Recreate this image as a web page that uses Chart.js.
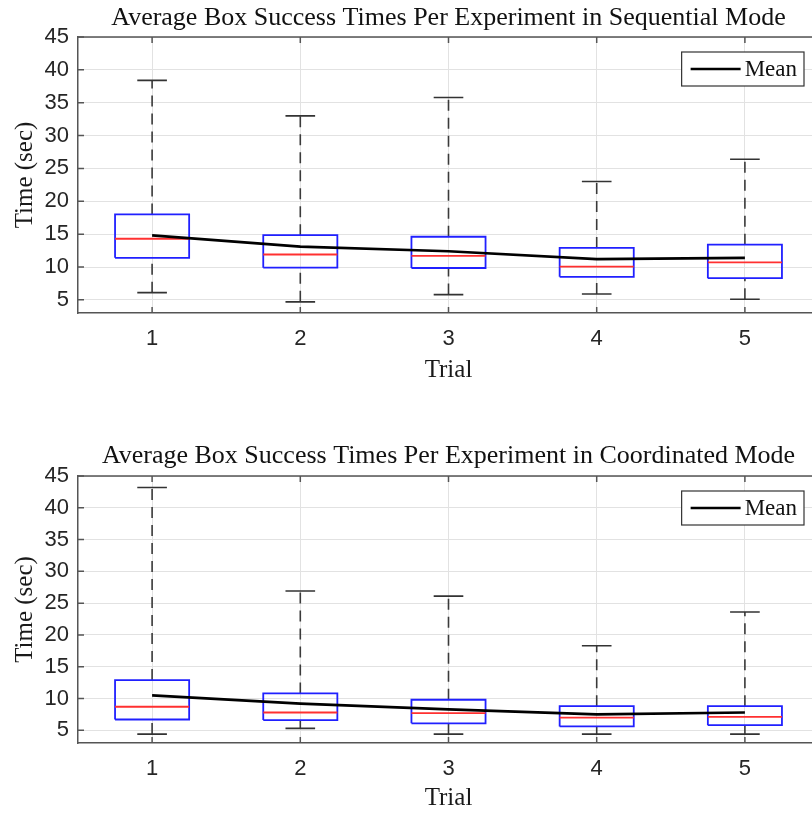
<!DOCTYPE html>
<html><head><meta charset="utf-8">
<script src="https://cdn.jsdelivr.net/npm/chart.js@4/dist/chart.umd.min.js"></script>
<style>
html,body{margin:0;padding:0;background:#fff;overflow:hidden;width:812px;height:815px;position:relative;}
#c1{position:absolute;left:0;top:0;}
#c2{position:absolute;left:0;top:420px;}
</style></head><body>
<canvas id="c1" width="830" height="400"></canvas>
<canvas id="c2" width="830" height="395"></canvas>
<script>
// ---- data ----
const trials = [1, 2, 3, 4, 5];
const xTickValues = [1, 2, 3, 4, 5];
const yTickValues = [5, 10, 15, 20, 25, 30, 35, 40, 45];
const seqTitle = 'Average Box Success Times Per Experiment in Sequential Mode';
const coTitle = 'Average Box Success Times Per Experiment in Coordinated Mode';
const xAxisLabel = 'Trial';
const yAxisLabel = 'Time (sec)';
const meanLabel = 'Mean';

// Sequential mode
const seqMin    = [6.1, 4.7, 5.8, 5.9, 5.1];
const seqQ1     = [11.4, 9.9, 9.85, 8.5, 8.3];
const seqMedian = [14.3, 11.9, 11.7, 10.05, 10.7];
const seqQ3     = [18.0, 14.85, 14.6, 12.9, 13.4];
const seqMax    = [38.4, 33.0, 35.8, 23.0, 26.4];
const seqMean   = [14.8, 13.1, 12.4, 11.2, 11.4];

// Coordinated mode
const coMin    = [4.4, 5.3, 4.4, 4.4, 4.4];
const coQ1     = [6.7, 6.6, 6.1, 5.6, 5.8];
const coMedian = [8.7, 7.8, 7.7, 7.0, 7.1];
const coQ3     = [12.9, 10.8, 9.8, 8.8, 8.8];
const coMax    = [43.2, 26.9, 26.1, 18.3, 23.6];
const coMean   = [10.5, 9.2, 8.3, 7.5, 7.8];

// ---- style constants ----
const BOX_HALF = 0.25, CAP_HALF = 0.1;
const AXIS_COLOR = '#555555', GRID_COLOR = '#e2e2e2', TEXT_COLOR = '#262626';
const SERIF = '"Liberation Serif", "Times New Roman", serif';
const SANS = '"Liberation Sans", Arial, Helvetica, sans-serif';

function seg(a, b) { return [a, b, {x: a.x, y: null}]; }

function buildDatasets(mn, q1, med, q3, mx, mean) {
  const box = trials.flatMap((t, i) => [
    {x: t - BOX_HALF, y: q1[i]}, {x: t + BOX_HALF, y: q1[i]},
    {x: t + BOX_HALF, y: q3[i]}, {x: t - BOX_HALF, y: q3[i]},
    {x: t - BOX_HALF, y: q1[i]}, {x: t, y: null}]);
  const medians = trials.flatMap((t, i) => seg({x: t - BOX_HALF, y: med[i]}, {x: t + BOX_HALF, y: med[i]}));
  const whiskers = trials.flatMap((t, i) => [
    ...seg({x: t, y: q3[i]}, {x: t, y: mx[i]}),
    ...seg({x: t, y: mn[i]}, {x: t, y: q1[i]})]);
  const caps = trials.flatMap((t, i) => [
    ...seg({x: t - CAP_HALF, y: mx[i]}, {x: t + CAP_HALF, y: mx[i]}),
    ...seg({x: t - CAP_HALF, y: mn[i]}, {x: t + CAP_HALF, y: mn[i]})]);
  const meanPts = trials.map((t, i) => ({x: t, y: mean[i]}));
  const common = {type: 'line', pointRadius: 0, pointHoverRadius: 0, fill: false, tension: 0, spanGaps: false};
  return [
    {...common, label: meanLabel, data: meanPts, borderColor: '#000000', borderWidth: 2.7, order: 0, isMean: true},
    {...common, label: 'median', data: medians, borderColor: '#ff3030', borderWidth: 1.8, order: 1},
    {...common, label: 'box', data: box, borderColor: '#2020ff', borderWidth: 1.8, order: 2},
    {...common, label: 'caps', data: caps, borderColor: '#333333', borderWidth: 1.6, order: 3},
    {...common, label: 'whiskers', data: whiskers, borderColor: '#3a3a3a', borderWidth: 1.6, borderDash: [11, 7], order: 4}
  ];
}

const framePlugin = {
  id: 'matlabFrame',
  afterDatasetsDraw(chart) {
    const {ctx, chartArea: ca, scales} = chart;
    ctx.save();
    ctx.strokeStyle = AXIS_COLOR;
    ctx.lineWidth = 1.5;
    ctx.beginPath();
    ctx.moveTo(ca.left, ca.top); ctx.lineTo(ca.right, ca.top);
    ctx.stroke();
    const tl = 6;
    ctx.beginPath();
    xTickValues.forEach(v => {
      const px = scales.x.getPixelForValue(v);
      ctx.moveTo(px, ca.bottom); ctx.lineTo(px, ca.bottom - tl);
      ctx.moveTo(px, ca.top); ctx.lineTo(px, ca.top + tl);
    });
    yTickValues.forEach(v => {
      const py = scales.y.getPixelForValue(v);
      ctx.moveTo(ca.left, py); ctx.lineTo(ca.left + tl, py);
    });
    ctx.stroke();
    ctx.restore();
  },
  afterDraw(chart) {
    const {ctx, chartArea: ca} = chart;
    const o = chart.options.plugins.matlabFrame;
    ctx.save();
    // title
    ctx.fillStyle = '#111111';
    ctx.font = '26px ' + SERIF;
    ctx.textAlign = 'center';
    ctx.textBaseline = 'alphabetic';
    ctx.fillText(o.title, (ca.left + ca.right) / 2, o.titleBaseline);
    // legend
    const meanDs = chart.data.datasets.find(d => d.isMean);
    ctx.font = '23px ' + SERIF;
    const tw = ctx.measureText(meanDs.label).width;
    const w = 9 + 50 + 4 + tw + 7, h = 34;
    const right = ca.right - 15, top = ca.top + 15, left = right - w;
    ctx.fillStyle = '#ffffff';
    ctx.fillRect(left, top, w, h);
    ctx.strokeStyle = '#333333';
    ctx.lineWidth = 1.2;
    ctx.strokeRect(left, top, w, h);
    ctx.strokeStyle = '#000000';
    ctx.lineWidth = 2.7;
    ctx.beginPath();
    ctx.moveTo(left + 9, top + h / 2); ctx.lineTo(left + 59, top + h / 2);
    ctx.stroke();
    ctx.fillStyle = '#111111';
    ctx.textAlign = 'left';
    ctx.textBaseline = 'middle';
    ctx.fillText(meanDs.label, left + 63, top + h / 2 + 1);
    ctx.restore();
  }
};

function makeChart(id, title, ds, g) {
  return new Chart(document.getElementById(id), {
    data: {datasets: ds},
    options: {
      responsive: false, animation: false, devicePixelRatio: 1,
      layout: {padding: {top: g.padTop, left: 0, right: 11, bottom: 0}},
      plugins: {
        legend: {display: false}, tooltip: {enabled: false}, title: {display: false},
        matlabFrame: {title: title, titleBaseline: g.titleBaseline}
      },
      scales: {
        x: {
          type: 'linear', min: 0.5, max: 5.5,
          afterBuildTicks: s => { s.ticks = xTickValues.map(v => ({value: v})); },
          afterFit: s => { s.height = g.xAxisHeight; },
          grid: {color: GRID_COLOR, lineWidth: 1, drawTicks: false},
          border: {display: true, color: AXIS_COLOR, width: 1.5},
          ticks: {padding: 13, color: TEXT_COLOR, font: {family: SANS, size: 22}, maxRotation: 0,
                  callback: v => String(v)},
          title: {display: true, text: xAxisLabel, color: '#1a1a1a', font: {family: SERIF, size: 25},
                  padding: {top: 0, bottom: g.xTitlePadBottom}}
        },
        y: {
          type: 'linear', min: 3, max: 45,
          afterBuildTicks: s => { s.ticks = yTickValues.map(v => ({value: v})); },
          afterFit: s => { s.width = 78; },
          grid: {color: GRID_COLOR, lineWidth: 1, drawTicks: false},
          border: {display: true, color: AXIS_COLOR, width: 1.5},
          ticks: {padding: 9, color: TEXT_COLOR, font: {family: SANS, size: 22}, callback: v => String(v)},
          title: {display: true, text: yAxisLabel, color: '#1a1a1a', font: {family: SERIF, size: 25},
                  padding: {top: 10, bottom: 0}}
        }
      }
    },
    plugins: [framePlugin]
  });
}

makeChart('c1', seqTitle, buildDatasets(seqMin, seqQ1, seqMedian, seqQ3, seqMax, seqMean),
  {padTop: 37, xAxisHeight: 87, xTitlePadBottom: 15, titleBaseline: 25});
makeChart('c2', coTitle, buildDatasets(coMin, coQ1, coMedian, coQ3, coMax, coMean),
  {padTop: 56, xAxisHeight: 72, xTitlePadBottom: 2, titleBaseline: 43});
</script>
</body></html>
